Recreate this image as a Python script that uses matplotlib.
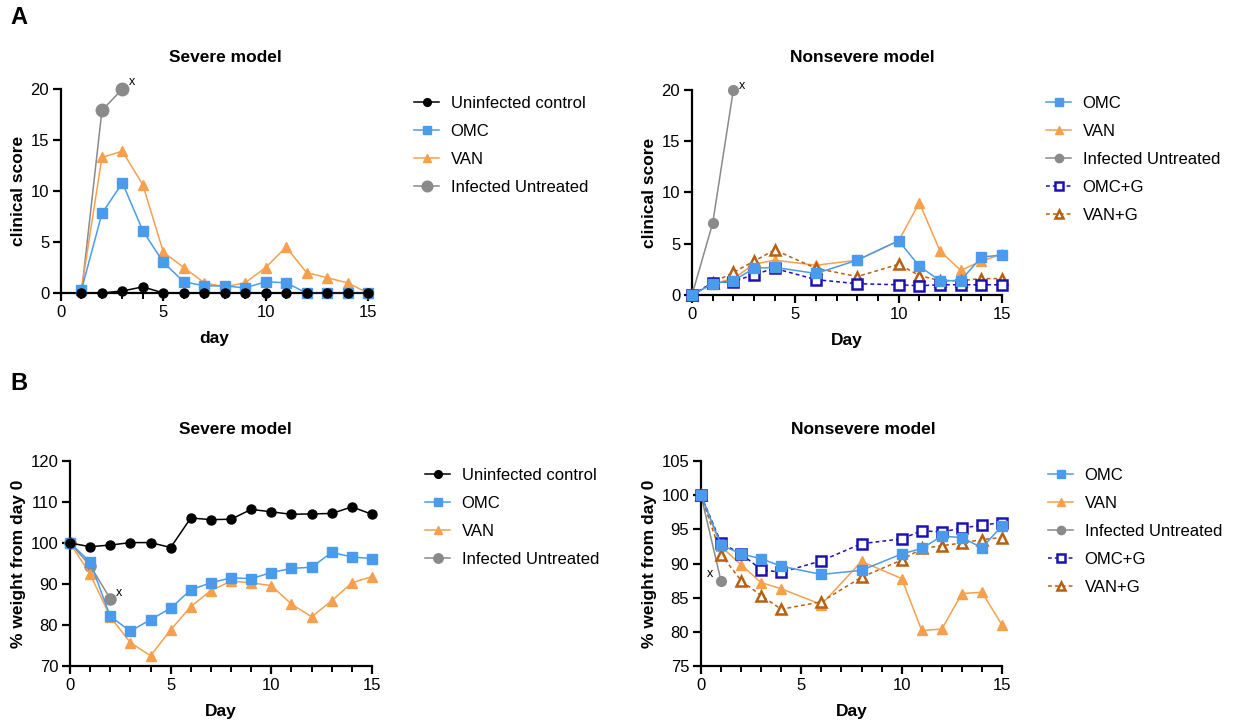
import matplotlib
matplotlib.use("Agg")
import matplotlib.pyplot as plt
from matplotlib.ticker import MultipleLocator

plt.rcParams['font.family'] = ['Liberation Sans', 'DejaVu Sans']

# ---------------- data ----------------
# A: clinical score, severe model
sev_cs_days = [1, 2, 3, 4, 5, 6, 7, 8, 9, 10, 11, 12, 13, 14, 15]
sev_cs_uninf = [0, 0, 0.2, 0.6, 0, 0, 0, 0, 0, 0, 0, 0, 0, 0, 0]
sev_cs_omc = [0.3, 7.8, 10.8, 6.1, 3.0, 1.1, 0.7, 0.7, 0.5, 1.1, 1.0, 0, 0, 0, 0]
sev_cs_van = [0.4, 13.3, 13.9, 10.6, 4.0, 2.5, 1.0, 0.6, 1.0, 2.5, 4.5, 2.0, 1.5, 1.0, 0]
sev_cs_inf_days = [1, 2, 3]
sev_cs_inf = [0, 17.9, 20]

# A: clinical score, nonsevere model
ns_days = [0, 1, 2, 3, 4, 6, 8, 10, 11, 12, 13, 14, 15]
ns_cs_omc = [0, 1.1, 1.4, 2.6, 2.7, 2.1, 3.4, 5.3, 2.8, 1.4, 1.4, 3.7, 3.9]
ns_cs_van = [0, 1.1, 1.6, 3.0, 3.4, 2.9, 3.4, 5.3, 9.0, 4.3, 2.4, 3.3, 4.0]
ns_cs_omcg = [0, 1.2, 1.3, 2.0, 2.6, 1.5, 1.1, 1.0, 0.9, 1.0, 1.0, 1.0, 1.0]
ns_cs_vang = [0, 1.2, 2.2, 3.3, 4.4, 2.6, 1.8, 3.0, 1.9, 1.4, 1.4, 1.6, 1.6]
ns_cs_inf_days = [0, 1, 2]
ns_cs_inf = [0, 7.0, 20]

# B: weight, severe model
sev_w_days = [0, 1, 2, 3, 4, 5, 6, 7, 8, 9, 10, 11, 12, 13, 14, 15]
sev_w_uninf = [100, 99.1, 99.5, 100.1, 100.1, 98.9, 106.1, 105.7, 105.8, 108.2,
               107.6, 107.0, 107.1, 107.2, 108.8, 107.0]
sev_w_omc = [100, 95.4, 82.1, 78.5, 81.3, 84.1, 88.6, 90.3, 91.5, 91.3,
             92.8, 93.8, 94.1, 97.7, 96.6, 96.2]
sev_w_van = [100, 92.4, 82.0, 75.7, 72.5, 78.8, 84.5, 88.4, 90.7, 90.3,
             89.6, 85.1, 82.0, 85.9, 90.3, 91.8]
sev_w_inf_days = [0, 1, 2]
sev_w_inf = [100, 94.5, 86.4]

# B: weight, nonsevere model
ns_w_omc = [100, 92.7, 91.4, 90.7, 89.6, 88.4, 89.0, 91.4, 92.2, 94.0, 93.8, 92.3, 95.5]
ns_w_van = [100, 92.5, 89.8, 87.2, 86.3, 84.0, 90.3, 87.8, 80.2, 80.4, 85.6, 85.8, 81.0]
ns_w_omcg = [100, 93.0, 91.4, 89.1, 88.7, 90.4, 92.9, 93.6, 94.8, 94.6, 95.2, 95.6, 96.0]
ns_w_vang = [100, 91.3, 87.5, 85.3, 83.3, 84.4, 88.0, 90.5, 92.2, 92.6, 93.0, 93.5, 93.8]
ns_w_inf_days = [0, 1]
ns_w_inf = [100, 87.4]

# ---------------- styles ----------------
C_BLACK = '#000000'
C_BLUE = '#4a9bec'
C_ORANGE = '#f6a04d'
C_GRAY = '#8a8a8a'
C_NAVY = '#1a12b4'
C_BROWN = '#b8600f'

W, H = 1239, 722
fig = plt.figure(figsize=(W / 100, H / 100), dpi=100)


def rect(x0, x1, ytop, ybot):
    return [x0 / W, 1 - ybot / H, (x1 - x0) / W, (ybot - ytop) / H]


def style_axes(ax, xlabel, ylabel, ylim, ystep):
    ax.set_xlim(0, 15)
    ax.set_ylim(*ylim)
    for s in ['top', 'right']:
        ax.spines[s].set_visible(False)
    for s in ['left', 'bottom']:
        ax.spines[s].set_linewidth(1.6)
    ax.xaxis.set_major_locator(MultipleLocator(5))
    ax.xaxis.set_minor_locator(MultipleLocator(1))
    ax.yaxis.set_major_locator(MultipleLocator(ystep))
    ax.tick_params(axis='both', which='major', direction='out', length=5.5,
                   width=1.6, labelsize=12, pad=3)
    ax.tick_params(axis='x', which='minor', direction='out', length=4, width=1.4)
    ax.set_xlabel(xlabel, fontsize=12.5, fontweight='bold', labelpad=8)
    ax.set_ylabel(ylabel, fontsize=12.5, fontweight='bold', labelpad=3)


def line(ax, x, y, color, marker, ms, z, ls='-', mfc=None, mew=1.0, label=None,
         markevery=None):
    ax.plot(x, y, color=color, marker=marker, markersize=ms, linestyle=ls,
            linewidth=1.1, markerfacecolor=mfc if mfc is not None else color,
            markeredgecolor=color, markeredgewidth=mew, zorder=z, clip_on=False,
            label=label, markevery=markevery)


def legend(ax, x, ytop, order):
    handles, labels = ax.get_legend_handles_labels()
    d = dict(zip(labels, handles))
    ax.legend([d[k] for k in order], order, loc='upper left',
              bbox_to_anchor=(x / W, 1 - ytop / H), bbox_transform=fig.transFigure,
              frameon=False, fontsize=12, handlelength=1.5, handletextpad=0.7,
              labelspacing=0.78, borderpad=0, borderaxespad=0, markerscale=0.85)


# ---- A severe ----
ax1 = fig.add_axes(rect(61, 368, 89, 293))
line(ax1, sev_cs_inf_days, sev_cs_inf, C_GRAY, 'o', 9, 2, label='Infected Untreated',
     markevery=[1, 2])
line(ax1, sev_cs_days, sev_cs_van, C_ORANGE, '^', 6.5, 3, label='VAN')
line(ax1, sev_cs_days, sev_cs_omc, C_BLUE, 's', 6.5, 4, label='OMC')
line(ax1, sev_cs_days, sev_cs_uninf, C_BLACK, 'o', 6.5, 5, label='Uninfected control')
style_axes(ax1, 'day', 'clinical score', (0, 20), 5)
ax1.annotate('x', (sev_cs_inf_days[-1], sev_cs_inf[-1]), xytext=(5, 3),
             textcoords='offset points', fontsize=9)
legend(ax1, 414, 96, ['Uninfected control', 'OMC', 'VAN', 'Infected Untreated'])

# ---- A nonsevere ----
ax2 = fig.add_axes(rect(692, 1002, 90, 295))
line(ax2, ns_cs_inf_days, ns_cs_inf, C_GRAY, 'o', 7, 2, label='Infected Untreated')
line(ax2, ns_days, ns_cs_van, C_ORANGE, '^', 6.5, 3, label='VAN')
line(ax2, ns_days, ns_cs_vang, C_BROWN, '^', 7, 4, ls=(0, (2.5, 2)), mfc='white',
     mew=1.8, label='VAN+G')
line(ax2, ns_days, ns_cs_omcg, C_NAVY, 's', 7, 5, ls=(0, (2.5, 2)), mfc='white',
     mew=1.8, label='OMC+G')
line(ax2, ns_days, ns_cs_omc, C_BLUE, 's', 7, 6, label='OMC')
style_axes(ax2, 'Day', 'clinical score', (0, 20), 5)
ax2.annotate('x', (ns_cs_inf_days[-1], ns_cs_inf[-1]), xytext=(4, 1),
             textcoords='offset points', fontsize=9)
legend(ax2, 1046, 96, ['OMC', 'VAN', 'Infected Untreated', 'OMC+G', 'VAN+G'])

# ---- B severe ----
ax3 = fig.add_axes(rect(70, 372, 461, 666))
line(ax3, sev_w_inf_days, sev_w_inf, C_GRAY, 'o', 8, 2, label='Infected Untreated')
line(ax3, sev_w_days, sev_w_van, C_ORANGE, '^', 6.5, 3, label='VAN')
line(ax3, sev_w_days, sev_w_omc, C_BLUE, 's', 6.5, 4, label='OMC')
line(ax3, sev_w_days, sev_w_uninf, C_BLACK, 'o', 6.5, 5, label='Uninfected control')
style_axes(ax3, 'Day', '% weight from day 0', (70, 120), 10)
ax3.annotate('x', (sev_w_inf_days[-1], sev_w_inf[-1]), xytext=(4, 2),
             textcoords='offset points', fontsize=9)
legend(ax3, 425, 468, ['Uninfected control', 'OMC', 'VAN', 'Infected Untreated'])

# ---- B nonsevere ----
ax4 = fig.add_axes(rect(701, 1002, 461, 666))
line(ax4, ns_w_inf_days, ns_w_inf, C_GRAY, 'o', 7, 2, label='Infected Untreated')
line(ax4, ns_days, ns_w_van, C_ORANGE, '^', 6.5, 3, label='VAN')
line(ax4, ns_days, ns_w_vang, C_BROWN, '^', 7, 4, ls=(0, (2.5, 2)), mfc='white',
     mew=1.8, label='VAN+G')
line(ax4, ns_days, ns_w_omcg, C_NAVY, 's', 7, 5, ls=(0, (2.5, 2)), mfc='white',
     mew=1.8, label='OMC+G')
line(ax4, ns_days, ns_w_omc, C_BLUE, 's', 7, 6, label='OMC')
style_axes(ax4, 'Day', '% weight from day 0', (75, 105), 5)
ax4.annotate('x', (ns_w_inf_days[-1], ns_w_inf[-1]), xytext=(-10, 3),
             textcoords='offset points', fontsize=9)
legend(ax4, 1048, 468, ['OMC', 'VAN', 'Infected Untreated', 'OMC+G', 'VAN+G'])

# titles and panel letters
fig.text(225 / W, 1 - 57 / H, 'Severe model', ha='center', va='center',
         fontsize=12.5, fontweight='bold')
fig.text(862 / W, 1 - 57 / H, 'Nonsevere model', ha='center', va='center',
         fontsize=12.5, fontweight='bold')
fig.text(235 / W, 1 - 429 / H, 'Severe model', ha='center', va='center',
         fontsize=12.5, fontweight='bold')
fig.text(863 / W, 1 - 429 / H, 'Nonsevere model', ha='center', va='center',
         fontsize=12.5, fontweight='bold')
fig.text(10 / W, 1 - 18 / H, 'A', ha='left', va='center', fontsize=17, fontweight='bold')
fig.text(10 / W, 1 - 384 / H, 'B', ha='left', va='center', fontsize=17, fontweight='bold')

fig.savefig('out.png', dpi=100, facecolor='white')
